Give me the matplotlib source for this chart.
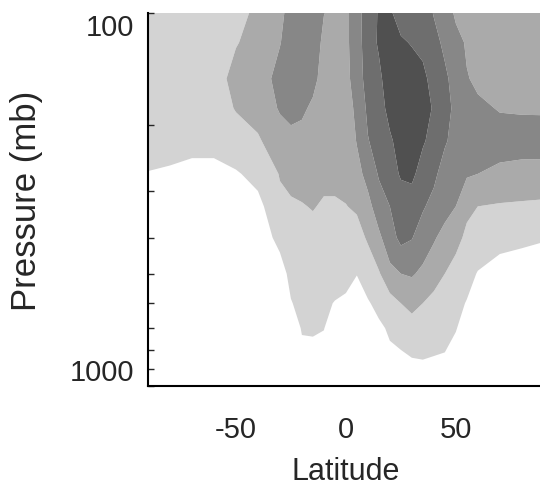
"""
Zonal-mean cross section: filled contours of a field vs latitude and pressure.
"""

import matplotlib
matplotlib.use('Agg')
import matplotlib.pyplot as plt
import numpy as np

LAT = [-90, -80, -70, -60, -50, -40, -30, -25, -20, -15, -10, -5, 0, 5,
       10, 15, 20, 25, 30, 35, 40, 45, 50, 55, 60, 70, 80, 90]
PRESSURE = [100, 120, 150, 180, 220, 270, 330, 400, 500, 600, 700, 850, 1000]

# one vertical profile per latitude (top to bottom), in contour-level units
PROFILES = [
    [1.0, 1.0, 1.0, 1.0, 1.0, 0.45, 0, 0, 0, 0, 0, 0, 0],             # -90
    [1.0, 1.0, 1.0, 1.0, 0.9, 0.35, 0, 0, 0, 0, 0, 0, 0],             # -80
    [1.0, 1.0, 1.0, 1.0, 0.8, 0.2, 0, 0, 0, 0, 0, 0, 0],              # -70
    [1.1, 1.1, 1.1, 1.1, 0.8, 0.2, 0, 0, 0, 0, 0, 0, 0],              # -60
    [1.2, 1.45, 1.8, 1.55, 1.1, 0.4, 0, 0, 0, 0, 0, 0, 0],            # -50
    [1.7, 1.8, 1.9, 1.8, 1.4, 0.8, 0.2, 0, 0, 0, 0, 0, 0],            # -40
    [2.3, 2.45, 2.9, 2.6, 2.0, 1.55, 1.3, 0.75, 0.1, 0, 0, 0, 0],     # -30
    [2.8, 3.0, 3.0, 2.8, 2.2, 1.9, 1.3, 1.0, 0.75, 0.45, 0.1, 0, 0],  # -25
    [3.0, 3.0, 2.9, 2.7, 2.1, 1.8, 1.45, 1.2, 0.95, 0.75, 0.55, 0.3, 0.1],
    [3.0, 3.0, 2.8, 2.3, 2.1, 1.8, 1.55, 1.2, 1.0, 0.8, 0.6, 0.2, 0],   # -15
    [2.52, 2.3, 2.1, 2.0, 1.9, 1.7, 1.4, 1.2, 0.95, 0.7, 0.52, 0.2, 0],
    [2.3, 2.2, 2.1, 2.0, 1.9, 1.7, 1.4, 1.2, 0.95, 0.45, 0.1, 0, 0],   # -5
    [2.3, 2.3, 2.2, 2.1, 1.9, 1.7, 1.48, 1.25, 0.85, 0.3, 0.1, 0, 0],  # 0
    [3.0, 3.0, 3.0, 2.7, 2.55, 2.2, 1.6, 1.2, 0.52, 0.15, 0, 0, 0],    # 5
    [4.2, 4.1, 3.9, 3.7, 3.45, 2.8, 2.2, 1.6, 1.0, 0.4, 0.1, 0, 0],    # 10
    [4.55, 4.6, 4.3, 4.1, 3.9, 3.6, 3.0, 2.3, 1.4, 0.8, 0.3, 0, 0],    # 15
    [4.6, 4.9, 5.0, 4.8, 4.35, 4.1, 3.5, 3.1, 2.2, 1.1, 0.65, 0.25, 0],
    [4.2, 4.6, 4.9, 5.0, 4.9, 4.6, 4.0, 3.75, 2.5, 1.5, 0.9, 0.3, 0],  # 25
    [4.2, 4.45, 4.9, 5.1, 4.95, 4.7, 4.0, 3.55, 2.6, 1.7, 1.2, 0.45, 0.1],
    [4.0, 4.3, 4.7, 4.9, 4.6, 4.1, 3.6, 3.0, 2.3, 1.5, 1.0, 0.5, 0.1],  # 35
    [3.45, 3.8, 4.2, 4.4, 4.2, 3.7, 3.2, 2.6, 1.9, 1.2, 0.85, 0.45, 0.1],
    [3.0, 3.3, 3.7, 3.8, 3.6, 3.1, 2.8, 2.2, 1.5, 1.1, 0.8, 0.4, 0],    # 45
    [2.35, 2.8, 3.1, 3.3, 3.2, 2.9, 2.5, 1.8, 1.1, 0.75, 0.55, 0.1, 0],
    [2.2, 2.4, 2.55, 2.9, 2.9, 2.6, 1.7, 1.3, 0.8, 0.45, 0.1, 0, 0],    # 55
    [1.9, 2.0, 2.35, 2.65, 2.8, 2.5, 1.5, 1.0, 0.45, 0.1, 0, 0, 0],     # 60
    [1.8, 1.9, 2.1, 2.45, 2.85, 2.3, 1.4, 0.8, 0.1, 0, 0, 0, 0],        # 70
    [1.8, 1.85, 2.1, 2.42, 2.85, 2.2, 1.35, 0.65, 0.1, 0, 0, 0, 0],     # 80
    [1.8, 1.85, 2.1, 2.4, 2.9, 2.15, 1.3, 0.55, 0.1, 0, 0, 0, 0],       # 90
]

LEVELS = [0.5, 1.5, 2.5, 3.5, 4.5, 6.0]
GRAYS = ['#d3d3d3', '#aaaaaa', '#878787', '#6e6e6e', '#505050']

plt.rcParams.update({
    'font.family': ['Liberation Sans', 'DejaVu Sans'],
    'font.size': 21,
    'text.color': '#262626',
    'xtick.color': '#262626',
    'ytick.color': '#262626',
    'axes.labelcolor': '#262626',
})

lat = np.array(LAT)
pres = np.array(PRESSURE)
field = np.array(PROFILES).T

fig = plt.figure(figsize=(5.4, 4.89), dpi=100)
ax = fig.add_axes([0.274, 0.2086, 0.733, 0.7628])

ax.contourf(lat, pres, field, levels=LEVELS, colors=GRAYS, antialiased=True)

ax.set_yscale('log')
ax.set_ylim(1000, 100)
ax.set_xlim(-90, 90)

ax.set_yticks([100, 1000])
ax.set_yticklabels(['100', '1000'])
ax.set_xticks([-50, 0, 50])
ax.set_xticklabels(['-50', '0', '50'])
ax.tick_params(axis='y', which='both', direction='in', length=4, width=1, pad=10)
ax.tick_params(axis='y', which='minor', labelleft=False)
ax.tick_params(axis='x', length=0, pad=21)
for lbl in ax.get_yticklabels():
    lbl.set_verticalalignment('top' if lbl.get_text() == '100' else 'bottom')

for side in ('top', 'right'):
    ax.spines[side].set_visible(False)
for side in ('left', 'bottom'):
    ax.spines[side].set_linewidth(1.5)

ax.set_xlabel('Latitude', fontsize=22, labelpad=9)
ax.set_ylabel('Pressure (mb)', fontsize=25, labelpad=19)

fig.savefig('out.png', dpi=100)
plt.close(fig)
